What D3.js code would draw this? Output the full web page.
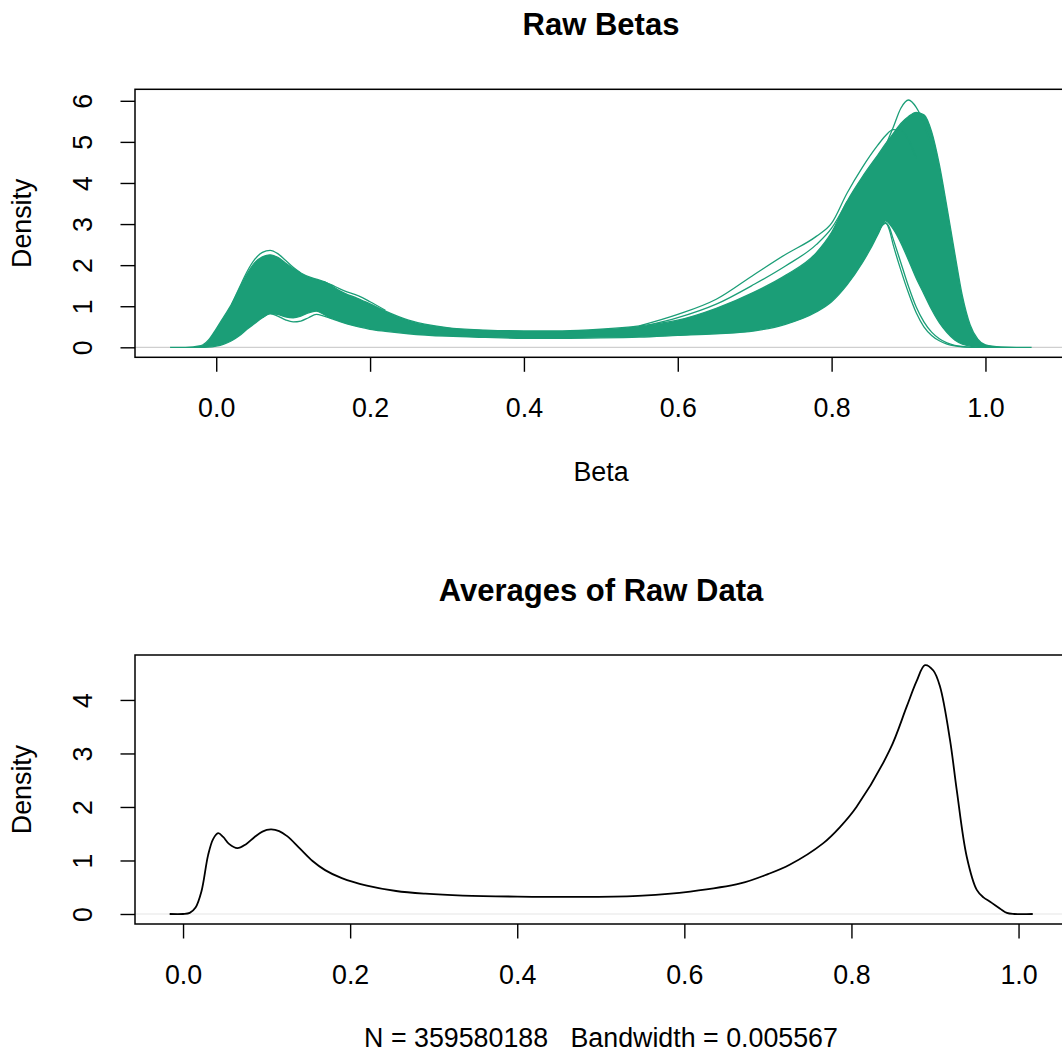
<!DOCTYPE html>
<html><head><meta charset="utf-8">
<script src="https://cdn.jsdelivr.net/npm/d3@7"></script>
<style>
body{margin:0;background:#fff;}
svg{display:block;background:#fff;}
text{font-family:"Liberation Sans",Arial,Helvetica,sans-serif;fill:#000;}
</style></head><body>
<svg id="chart" width="1062" height="1055"></svg>
<script>
// ---------------- DATA ----------------
const titles = ["Raw Betas", "Averages of Raw Data"];
const xLabel = "Beta";
const yLabel = "Density";
const subLabel = "N = 359580188   Bandwidth = 0.005567";
const xTicks = [0, 0.2, 0.4, 0.6, 0.8, 1.0];
const yTicksTop = [0, 1, 2, 3, 4, 5, 6];
const yTicksBottom = [0, 1, 2, 3, 4];

// Top panel: shared beta grid for the dense band of sample density curves
const betaGrid = [-0.06,-0.04,-0.02,-0.01,0.00,0.01,0.02,0.03,0.04,0.05,
  0.06,0.07,0.08,0.09,0.10,0.11,0.12,0.13,0.14,0.15,
  0.16,0.17,0.18,0.19,0.20,0.22,0.25,0.30,0.35,0.40,
  0.45,0.50,0.55,0.60,0.65,0.70,0.74,0.78,0.80,0.82,
  0.84,0.85,0.86,0.87,0.88,0.89,0.90,0.91,0.92,0.93,
  0.94,0.95,0.96,0.97,0.98,0.99,1.00,1.02,1.04,1.06];
// upper edge of the dense band of sample curves
const bandUpper = [0,0,0.04,0.18,0.45,0.75,1.05,1.42,1.78,2.06,
  2.20,2.25,2.19,2.05,1.92,1.81,1.72,1.66,1.60,1.50,
  1.38,1.29,1.22,1.14,1.06,0.88,0.66,0.48,0.42,0.40,
  0.40,0.44,0.52,0.66,0.95,1.35,1.75,2.30,2.80,3.55,
  4.15,4.42,4.68,4.95,5.20,5.45,5.62,5.72,5.66,5.25,
  4.45,3.40,2.30,1.25,0.55,0.20,0.06,0.01,0,0];
// lower edge of the dense band of sample curves
const bandLower = [0,0,0,0.005,0.03,0.08,0.16,0.28,0.44,0.58,
  0.72,0.82,0.80,0.74,0.72,0.76,0.84,0.88,0.80,0.70,
  0.63,0.57,0.52,0.48,0.44,0.39,0.33,0.27,0.24,0.22,
  0.22,0.23,0.25,0.29,0.33,0.40,0.56,0.86,1.11,1.52,
  2.06,2.38,2.74,3.08,2.88,2.54,2.12,1.68,1.30,0.92,
  0.60,0.36,0.18,0.08,0.03,0.01,0,0,0,0];

// individual sample curves that stand apart from the band
const curveHighLeftX = [0.02,0.03,0.04,0.05,0.06,0.07,0.08,0.09,0.10,0.11];
const curveHighLeftY = [1.05,1.45,1.84,2.14,2.31,2.36,2.28,2.12,1.95,1.81];
const curveLowLeftX = [0.06,0.07,0.08,0.09,0.10,0.11,0.12,0.13,0.14,0.15];
const curveLowLeftY = [0.72,0.82,0.76,0.67,0.62,0.64,0.72,0.80,0.76,0.70];
const curveBumpX = [0.14,0.15,0.16,0.17,0.18,0.19,0.20,0.22];
const curveBumpY = [1.60,1.52,1.43,1.35,1.29,1.21,1.11,0.90];
const curveHighRightX = [0.55,0.60,0.65,0.70,0.74,0.78,0.80,0.82,0.84,0.86,0.87,0.88,0.89,0.90,0.91];
const curveHighRightY = [0.52,0.80,1.17,1.78,2.26,2.70,3.02,3.75,4.38,4.92,5.15,5.30,5.28,5.05,4.60];
const curveMidRightX = [0.56,0.60,0.65,0.70,0.74,0.78,0.80,0.82];
const curveMidRightY = [0.53,0.72,1.05,1.54,1.98,2.50,2.90,3.55];
const curveTallX = [0.87,0.88,0.89,0.90,0.91,0.92,0.93];
const curveTallY = [4.90,5.35,5.82,6.02,5.84,5.45,4.90];
const curveLowPeakX = [0.85,0.86,0.865,0.87,0.875,0.88,0.89,0.90,0.91,0.92,0.93,0.94,0.95,0.96,0.97,0.98,1.00];
const curveLowPeak1Y = [2.46,2.78,2.95,3.04,2.86,2.50,1.88,1.32,0.84,0.50,0.29,0.16,0.08,0.035,0.012,0,0];
const curveLowPeak2Y = [2.46,2.78,2.95,3.02,2.92,2.64,2.06,1.48,0.98,0.62,0.37,0.21,0.11,0.05,0.02,0.005,0];

// Bottom panel: density of the averages
const avgX = [-0.016,0.000,0.008,0.015,0.022,0.030,0.036,0.042,0.048,0.055,
  0.065,0.075,0.085,0.095,0.105,0.115,0.125,0.140,0.155,0.170,
  0.190,0.220,0.255,0.290,0.335,0.400,0.487,0.550,0.607,0.667,
  0.700,0.726,0.766,0.786,0.806,0.846,0.866,0.878,0.888,0.898,
  0.906,0.918,0.926,0.938,0.950,0.958,0.966,0.978,0.986,0.995,1.017];
const avgDensity = [0,0,0.02,0.12,0.42,1.10,1.40,1.51,1.44,1.31,
  1.23,1.30,1.43,1.54,1.58,1.55,1.45,1.22,0.99,0.82,
  0.67,0.53,0.43,0.38,0.345,0.325,0.32,0.345,0.42,0.57,
  0.745,0.92,1.32,1.62,2.00,3.07,3.87,4.35,4.65,4.55,
  4.25,3.25,2.32,1.07,0.45,0.31,0.23,0.10,0.02,0,0];

// ---------------- LAYOUT ----------------
const svg = d3.select("#chart");
const green = "#1B9E77";
const fontAxis = 26.8;
const fontTitle = 31;

const topBox = {left: 135, right: 1067, top: 89.3, bottom: 357.3};
const botBox = {left: 135, right: 1067, top: 655, bottom: 924};

const xTop = d3.scaleLinear().domain([-0.1056, 1.106]).range([topBox.left, topBox.right]);
const yTop = d3.scaleLinear().domain([-0.243, 6.28]).range([topBox.bottom, topBox.top]);
const xBot = d3.scaleLinear().domain([-0.0575, 1.058]).range([botBox.left, botBox.right]);
const yBot = d3.scaleLinear().domain([-0.187, 4.84]).range([botBox.bottom, botBox.top]);

function zeroLine(x, y, box, color) {
  svg.append("line")
    .attr("x1", box.left).attr("x2", box.right)
    .attr("y1", y(0)).attr("y2", y(0))
    .attr("stroke", color).attr("stroke-width", 1.2);
}

function axes(x, y, box, yTicks) {
  const gx = svg.append("g").attr("transform", `translate(0,${box.bottom})`)
    .call(d3.axisBottom(x).tickValues(xTicks).tickFormat(d3.format(".1f"))
      .tickSizeInner(14.5).tickSizeOuter(0).tickPadding(26));
  gx.select(".domain").remove();
  const gy = svg.append("g").attr("transform", `translate(${box.left},0)`)
    .call(d3.axisLeft(y).tickValues(yTicks).tickFormat(d3.format("d"))
      .tickSizeInner(14.5).tickSizeOuter(0));
  gy.select(".domain").remove();
  gy.selectAll(".tick text").attr("x", null).attr("dy", null)
    .attr("text-anchor", "middle").attr("transform", "translate(-43,0) rotate(-90)");
  [gx, gy].forEach(a => {
    a.attr("font-family", null).attr("font-size", null);
    a.selectAll("line").attr("stroke", "#000").attr("stroke-width", 1.4);
    a.selectAll("text").attr("fill", "#000").style("font-size", fontAxis + "px");
  });
}

function box(b) {
  svg.append("rect").attr("x", b.left).attr("y", b.top)
    .attr("width", b.right - b.left).attr("height", b.bottom - b.top)
    .attr("fill", "none").attr("stroke", "#000").attr("stroke-width", 1.5);
}

function title(txt, b) {
  svg.append("text").attr("x", (b.left + b.right) / 2).attr("y", b.top - 54.3)
    .attr("text-anchor", "middle").style("font-size", fontTitle + "px")
    .style("font-weight", "bold").text(txt);
}

function ylab(b) {
  svg.append("text").attr("transform", `translate(31,${(b.top + b.bottom) / 2}) rotate(-90)`)
    .attr("text-anchor", "middle").style("font-size", fontAxis + "px").text(yLabel);
}

// ---------------- TOP PANEL ----------------
zeroLine(xTop, yTop, topBox, "#cfcfcf");

const bandArea = d3.area()
  .x((d, i) => xTop(betaGrid[i]))
  .y0((d, i) => yTop(bandLower[i]))
  .y1((d, i) => yTop(bandUpper[i]))
  .curve(d3.curveMonotoneX);
svg.append("path").datum(betaGrid).attr("d", bandArea)
  .attr("fill", green).attr("stroke", green).attr("stroke-width", 1.3);

const lineTop = d3.line().x(d => xTop(d[0])).y(d => yTop(d[1])).curve(d3.curveMonotoneX);
const sampleCurves = [
  [curveHighLeftX, curveHighLeftY],
  [curveLowLeftX, curveLowLeftY],
  [curveBumpX, curveBumpY],
  [curveHighRightX, curveHighRightY],
  [curveMidRightX, curveMidRightY],
  [curveTallX, curveTallY],
  [curveLowPeakX, curveLowPeak1Y],
  [curveLowPeakX, curveLowPeak2Y]
];
sampleCurves.forEach(([xs, ys]) => {
  svg.append("path").datum(xs.map((v, i) => [v, ys[i]])).attr("d", lineTop)
    .attr("fill", "none").attr("stroke", green).attr("stroke-width", 1.3);
});

box(topBox);
axes(xTop, yTop, topBox, yTicksTop);
title(titles[0], topBox);
ylab(topBox);
svg.append("text").attr("x", (topBox.left + topBox.right) / 2).attr("y", topBox.bottom + 123.2)
  .attr("text-anchor", "middle").style("font-size", fontAxis + "px").text(xLabel);

// ---------------- BOTTOM PANEL ----------------
zeroLine(xBot, yBot, botBox, "#e6e6e6");
const lineBot = d3.line().x(d => xBot(d[0])).y(d => yBot(d[1])).curve(d3.curveCatmullRom.alpha(0.5));
svg.append("path").datum(avgX.map((v, i) => [v, avgDensity[i]])).attr("d", lineBot)
  .attr("fill", "none").attr("stroke", "#000").attr("stroke-width", 1.8);

box(botBox);
axes(xBot, yBot, botBox, yTicksBottom);
title(titles[1], botBox);
ylab(botBox);
svg.append("text").attr("x", (botBox.left + botBox.right) / 2).attr("y", botBox.bottom + 123.2)
  .attr("text-anchor", "middle").style("font-size", fontAxis + "px")
  .style("white-space", "pre").attr("xml:space", "preserve").text(subLabel);
</script>
</body></html>
